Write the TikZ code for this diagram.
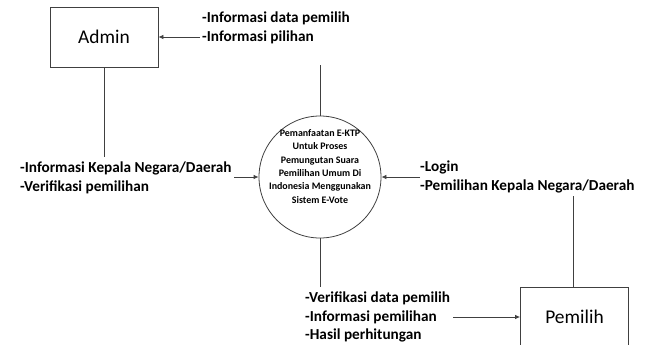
\documentclass[tikz,border=0pt]{standalone}
\usepackage{fontspec}
\setmainfont{Carlito}
\usetikzlibrary{arrows.meta}
\definecolor{ln}{HTML}{404040}
\tikzset{
  entity/.style={draw=ln, line width=0.8bp, minimum width=108bp, minimum height=60bp, font=\fontsize{19.5}{21}\selectfont, inner sep=0pt},
  proc/.style={draw=ln, line width=0.8bp, circle, minimum size=122bp, inner sep=0pt},
  lbl/.style={align=left, font=\bfseries\fontsize{15.3}{18.6}\selectfont, inner sep=0pt, anchor=north west},
  flow/.style={draw=ln, line width=0.8bp, -{Latex[length=5bp,width=4.5bp]}},
  plain/.style={draw=ln, line width=0.8bp}
}
\begin{document}
\begin{tikzpicture}[x=1bp,y=-1bp]
\useasboundingbox (0,0) rectangle (652,344);
\clip (0,0) rectangle (652,344);
\fill[white] (0,0) rectangle (652,344);
\node[entity] (admin) at (104,37) {Admin};
\node[entity] (pemilih) at (574.5,317) {Pemilih};
\node[proc] (p) at (320,177) {};
\node[align=center, font=\bfseries\fontsize{10}{13.4}\selectfont, inner sep=0pt] (ptext) at (320,166.5) {Pemanfaatan E-KTP\\Untuk Proses\\Pemungutan Suara\\Pemilihan Umum Di\\Indonesia Menggunakan\\Sistem E-Vote};
\node[lbl] (l1) at (202,12) {-Informasi data pemilih\\-Informasi pilihan};
\node[lbl] (l2) at (20,162) {-Informasi Kepala Negara/Daerah\\-Verifikasi pemilihan};
\node[lbl] (l3) at (420,161) {-Login\\-Pemilihan Kepala Negara/Daerah};
\node[lbl] (l4) at (305,292) {-Verifikasi data pemilih\\-Informasi pemilihan\\-Hasil perhitungan};
\coordinate (a1) at (200,37);
\coordinate (a2) at (234,177);
\coordinate (a3) at (420,177);
\coordinate (a4) at (453,317);
\coordinate (v1) at (104,157);
\coordinate (v2) at (320,65);
\coordinate (v3) at (320,287);
\coordinate (v4) at (573,196);
\draw[flow] (a1) -- (admin.east);
\draw[flow] (a2) -- (p.west);
\draw[flow] (a3) -- (p.east);
\draw[flow] (a4) -- (pemilih.west);
\draw[plain] (admin.south) -- (v1);
\draw[plain] (v2) -- (p.north);
\draw[plain] (p.south) -- (v3);
\draw[plain] (v4) -- (v4 |- pemilih.north);
\end{tikzpicture}
\end{document}
